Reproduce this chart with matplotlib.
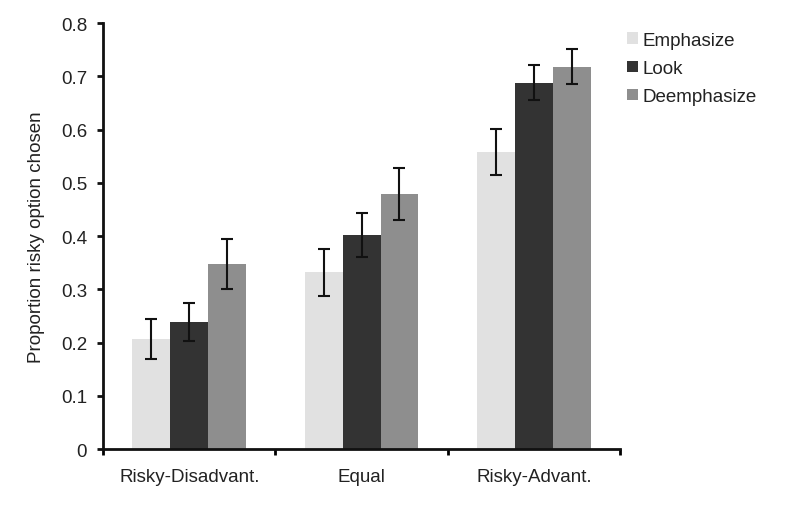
import numpy as np
import matplotlib
matplotlib.use('Agg')
import matplotlib.pyplot as plt

# values
categories = ['Risky-Disadvant.', 'Equal', 'Risky-Advant.']
conditions = ['Emphasize', 'Look', 'Deemphasize']

emphasize = [0.207, 0.332, 0.558]
look = [0.239, 0.402, 0.688]
deemphasize = [0.348, 0.479, 0.718]

emphasize_err = [0.038, 0.044, 0.044]
look_err = [0.036, 0.042, 0.033]
deemphasize_err = [0.047, 0.049, 0.033]

colors = ['#e1e1e1', '#333333', '#8e8e8e']

plt.rcParams['font.family'] = ['Liberation Sans', 'DejaVu Sans']
txt = '#222222'

fig = plt.figure(figsize=(8, 5.1), dpi=100)
ax = fig.add_axes([0.129, 0.1176, 0.646, 0.835])

x = np.arange(len(categories))
w = 0.22
series = [emphasize, look, deemphasize]
errs = [emphasize_err, look_err, deemphasize_err]

for i, (vals, err) in enumerate(zip(series, errs)):
    ax.bar(x + (i - 1) * w, vals, w, color=colors[i], label=conditions[i],
           yerr=err, error_kw=dict(ecolor='#111111', elinewidth=1.5,
                                   capsize=4.5, capthick=1.5))

ax.set_xlim(-0.5, 2.5)
ax.set_ylim(0, 0.8)
ax.set_yticks(np.arange(0, 0.81, 0.1))
ax.set_yticklabels(['0'] + ['%.1f' % v for v in np.arange(0.1, 0.81, 0.1)])

ax.set_xticks(x)
ax.set_xticklabels(categories)
ax.tick_params(axis='x', which='major', length=0, pad=14)
ax.set_xticks([-0.5, 0.5, 1.5, 2.5], minor=True)
ax.tick_params(axis='x', which='minor', length=4, width=2, direction='out')
ax.tick_params(axis='y', length=4.5, width=2, direction='out', pad=7)
ax.tick_params(labelsize=13.5, colors='#111111')
for lab in ax.get_xticklabels() + ax.get_yticklabels():
    lab.set_color(txt)

for s in ['top', 'right']:
    ax.spines[s].set_visible(False)
for s in ['left', 'bottom']:
    ax.spines[s].set_linewidth(2)
    ax.spines[s].set_color('#111111')

ax.set_ylabel('Proportion risky option chosen', fontsize=13.5, color=txt)
ax.yaxis.set_label_coords(-0.112, 0.5)

leg = fig.legend(loc='upper left', bbox_to_anchor=(627 / 800, 1 - 33 / 510),
                 frameon=False, fontsize=13.5, handlelength=0.6,
                 handleheight=0.6, handletextpad=0.2, labelspacing=0.59,
                 borderpad=0, borderaxespad=0)
for t in leg.get_texts():
    t.set_color(txt)

fig.savefig('out.png', dpi=100)
